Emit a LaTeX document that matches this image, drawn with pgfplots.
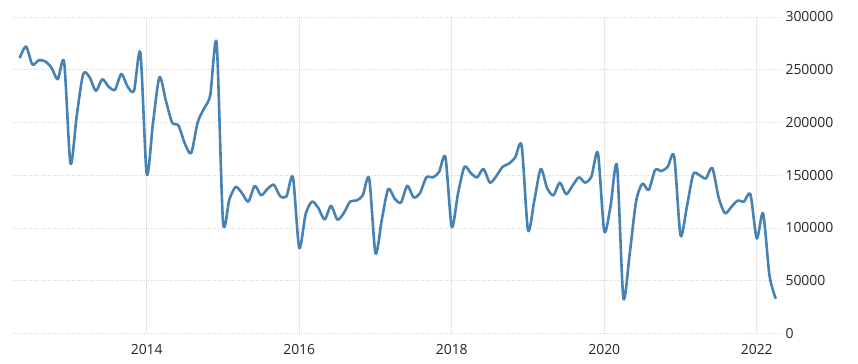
\documentclass[border=0pt]{standalone}
\usepackage{pgfplots}
\pgfplotsset{compat=1.18}
\usepackage{fontspec}
\setmainfont{Open Sans}
\definecolor{line}{RGB}{70,130,180}
\definecolor{vgrid}{RGB}{232,232,232}
\definecolor{hgrid}{RGB}{215,215,215}
\pgfplotstableread{
x y
2012.333 261000
2012.417 272000
2012.5 255000
2012.583 259000
2012.667 258000
2012.75 252000
2012.833 241000
2012.917 257000
2013.0 161000
2013.083 207000
2013.167 246000
2013.25 243000
2013.333 230000
2013.417 241000
2013.5 234000
2013.583 231000
2013.667 246000
2013.75 234000
2013.833 230000
2013.917 266000
2014.0 151000
2014.083 200000
2014.167 243000
2014.25 221000
2014.333 200000
2014.417 197000
2014.5 180000
2014.583 171000
2014.667 200000
2014.75 213000
2014.833 226000
2014.917 275000
2015.0 106000
2015.083 127000
2015.167 139000
2015.25 133000
2015.333 125000
2015.417 140000
2015.5 131000
2015.583 137000
2015.667 141000
2015.75 130000
2015.833 130000
2015.917 148000
2016.0 81000
2016.083 113000
2016.167 125000
2016.25 119000
2016.333 108000
2016.417 121000
2016.5 108000
2016.583 114000
2016.667 125000
2016.75 126000
2016.833 131000
2016.917 147000
2017.0 76000
2017.083 108000
2017.167 137000
2017.25 128000
2017.333 124000
2017.417 140000
2017.5 129000
2017.583 133000
2017.667 148000
2017.75 148000
2017.833 153000
2017.917 167000
2018.0 101000
2018.083 133000
2018.167 158000
2018.25 152000
2018.333 148000
2018.417 156000
2018.5 143000
2018.583 149000
2018.667 158000
2018.75 161000
2018.833 167000
2018.917 178000
2019.0 98000
2019.083 126000
2019.167 156000
2019.25 138000
2019.333 131000
2019.417 143000
2019.5 132000
2019.583 140000
2019.667 148000
2019.75 143000
2019.833 149000
2019.917 171000
2020.0 97000
2020.083 121000
2020.167 159000
2020.25 34000
2020.333 75000
2020.417 125000
2020.5 142000
2020.583 136000
2020.667 155000
2020.75 154000
2020.833 158000
2020.917 168000
2021.0 93000
2021.083 120000
2021.167 151000
2021.25 150000
2021.333 147000
2021.417 157000
2021.5 129000
2021.583 114000
2021.667 120000
2021.75 126000
2021.833 125000
2021.917 132000
2022.0 90000
2022.083 114000
2022.167 55000
2022.25 33000
}\datatable
\begin{document}
\begin{tikzpicture}
\useasboundingbox (0,0) rectangle (858bp,364bp);
\begin{axis}[
  at={(12bp,30.5bp)}, anchor=south west,
  scale only axis, width=768bp, height=316.5bp,
  xmin=2012.233, xmax=2022.305, ymin=0, ymax=300000,
  axis line style={draw=none},
  xtick={2014,2016,2018,2020,2022},
  xticklabels={2014,2016,2018,2020,2022},
  ytick={0,50000,100000,150000,200000,250000,300000},
  yticklabels={0,50000,100000,150000,200000,250000,300000},
  scaled y ticks=false, scaled x ticks=false,
  yticklabel pos=right,
  tick style={draw=none},
  major tick length=0pt,
  xmajorgrids, ymajorgrids,
  x grid style={vgrid, line width=0.8bp},
  y grid style={hgrid, dotted, line width=0.8bp},
  ticklabel style={font=\fontsize{14}{16}\selectfont, text=black!85},
  yticklabel style={anchor=west, xshift=2bp},
  xticklabel style={anchor=north, yshift=-7bp},
  clip=false,
]
\addplot[line, line width=2.6bp, smooth, tension=0.45, line join=round] table[x=x,y=y] {\datatable};
\end{axis}
\end{tikzpicture}
\end{document}
